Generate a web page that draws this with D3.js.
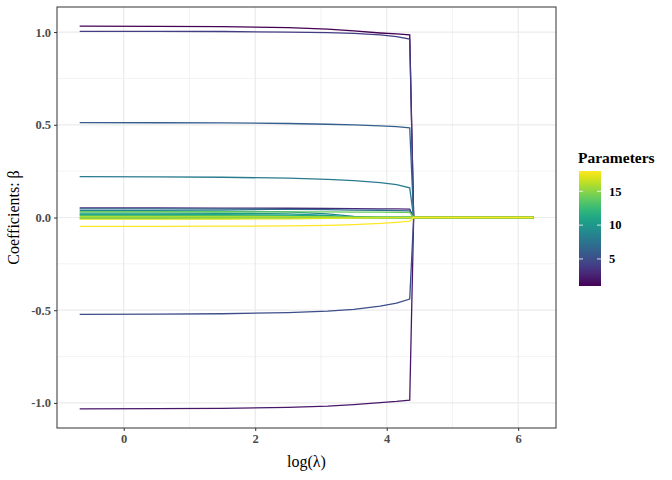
<!DOCTYPE html>
<html>
<head>
<meta charset="utf-8">
<script src="https://cdn.jsdelivr.net/npm/d3@7"></script>
<style>
  body { margin: 0; background: #fff; }
  text { font-family: "Liberation Serif", "DejaVu Serif", serif; }
</style>
</head>
<body>
<div id="chart"></div>
<script>
// log(lambda) grid along the lasso path
const logLambda = [-0.67, 0.5, 1.5, 2.5, 3.1, 3.5, 3.9, 4.15, 4.35, 4.41, 5.3, 6.23];

// coefficient paths, one per parameter (1..18)
const beta01 = [1.032, 1.031, 1.029, 1.024, 1.016, 1.006, 0.995, 0.99, 0.985, 0, 0, 0];
const beta02 = [-1.032, -1.031, -1.029, -1.024, -1.017, -1.009, -0.998, -0.992, -0.985, 0, 0, 0];
const beta03 = [0.052, 0.052, 0.051, 0.05, 0.049, 0.048, 0.047, 0.046, 0.045, 0, 0, 0];
const beta04 = [1.004, 1.004, 1.003, 1.0, 0.997, 0.993, 0.985, 0.975, 0.962, 0, 0, 0];
const beta05 = [-0.522, -0.521, -0.519, -0.513, -0.505, -0.495, -0.478, -0.462, -0.44, 0, 0, 0];
const beta06 = [0.512, 0.511, 0.51, 0.507, 0.503, 0.499, 0.494, 0.49, 0.484, 0, 0, 0];
const beta07 = [0.046, 0.046, 0.045, 0.044, 0.042, 0.04, 0.039, 0.037, 0.036, 0, 0, 0];
const beta08 = [0.22, 0.219, 0.217, 0.212, 0.206, 0.199, 0.188, 0.177, 0.16, 0, 0, 0];
const beta09 = [0.037, 0.037, 0.035, 0.03, 0.02, 0.006, 0, 0, 0, 0, 0, 0];
const beta10 = [0.024, 0.024, 0.023, 0.02, 0.012, 0, 0, 0, 0, 0, 0, 0];
const beta11 = [0.017, 0.017, 0.016, 0.013, 0.008, 0.002, 0, 0, 0, 0, 0, 0];
const beta12 = [0.012, 0.012, 0.011, 0.009, 0.005, 0, 0, 0, 0, 0, 0, 0];
const beta13 = [-0.004, -0.004, -0.004, -0.003, -0.002, 0, 0, 0, 0, 0, 0, 0];
const beta14 = [0.031, 0.031, 0.031, 0.03, 0.03, 0.029, 0.029, 0.028, 0.028, 0, 0, 0];
const beta15 = [0.001, 0.001, 0.001, 0.001, 0.001, 0, 0, 0, 0, 0, 0, 0];
const beta16 = [0.006, 0.006, 0.006, 0.005, 0.003, 0.001, 0, 0, 0, 0, 0, 0];
const beta17 = [-0.009, -0.009, -0.008, -0.007, -0.005, -0.003, -0.002, -0.001, -0.001, 0, 0, 0];
const beta18 = [-0.048, -0.048, -0.047, -0.045, -0.042, -0.038, -0.032, -0.026, -0.02, 0, 0, 0];

const betaPaths = [beta01, beta02, beta03, beta04, beta05, beta06, beta07, beta08, beta09,
                   beta10, beta11, beta12, beta13, beta14, beta15, beta16, beta17, beta18];

const xTicks = [0, 2, 4, 6];
const xMinor = [1, 3, 5];
const yTicks = [-1.0, -0.5, 0.0, 0.5, 1.0];
const yMinor = [-0.75, -0.25, 0.25, 0.75];
const legendTicks = [5, 10, 15];

const W = 672, H = 480;
const panel = { left: 57, right: 556, top: 7, bottom: 428 };

const svg = d3.select("#chart").append("svg")
    .attr("width", W).attr("height", H);

// ggplot-style 5% expansion
const xExt = d3.extent(logLambda);
const xPad = (xExt[1] - xExt[0]) * 0.05;
const yMin = d3.min(betaPaths, (d) => d3.min(d));
const yMax = d3.max(betaPaths, (d) => d3.max(d));
const yPad = (yMax - yMin) * 0.05;

const x = d3.scaleLinear().domain([xExt[0] - xPad, xExt[1] + xPad]).range([panel.left, panel.right]);
const y = d3.scaleLinear().domain([yMin - yPad, yMax + yPad]).range([panel.bottom, panel.top]);
const color = (p) => d3.interpolateViridis((p - 1) / 17);

// grid
const grid = svg.append("g");
grid.selectAll(".minor-x").data(xMinor).join("line")
    .attr("x1", (d) => x(d)).attr("x2", (d) => x(d))
    .attr("y1", panel.top).attr("y2", panel.bottom)
    .attr("stroke", "#ebebeb").attr("stroke-width", 0.6);
grid.selectAll(".minor-y").data(yMinor).join("line")
    .attr("y1", (d) => y(d)).attr("y2", (d) => y(d))
    .attr("x1", panel.left).attr("x2", panel.right)
    .attr("stroke", "#ebebeb").attr("stroke-width", 0.6);
grid.append("g").selectAll("line").data(xTicks).join("line")
    .attr("x1", (d) => x(d)).attr("x2", (d) => x(d))
    .attr("y1", panel.top).attr("y2", panel.bottom)
    .attr("stroke", "#ebebeb").attr("stroke-width", 1.2);
grid.append("g").selectAll("line").data(yTicks).join("line")
    .attr("y1", (d) => y(d)).attr("y2", (d) => y(d))
    .attr("x1", panel.left).attr("x2", panel.right)
    .attr("stroke", "#ebebeb").attr("stroke-width", 1.2);

// coefficient lines
const line = d3.line()
    .x((d) => x(d[0]))
    .y((d) => y(d[1]));

svg.append("g").selectAll("path")
    .data(betaPaths.map((vals, i) => ({ p: i + 1, pts: logLambda.map((l, j) => [l, vals[j]]) })))
    .join("path")
    .attr("fill", "none")
    .attr("stroke", (d) => color(d.p))
    .attr("stroke-width", 1.3)
    .attr("d", (d) => line(d.pts));

// panel border
svg.append("rect")
    .attr("x", panel.left).attr("y", panel.top)
    .attr("width", panel.right - panel.left).attr("height", panel.bottom - panel.top)
    .attr("fill", "none").attr("stroke", "#333333").attr("stroke-width", 1);

// axes
const xAxis = svg.append("g")
    .attr("transform", `translate(0,${panel.bottom})`)
    .call(d3.axisBottom(x).tickValues(xTicks).tickSize(3).tickPadding(3).tickFormat(d3.format("d")));
const yAxis = svg.append("g")
    .attr("transform", `translate(${panel.left},0)`)
    .call(d3.axisLeft(y).tickValues(yTicks).tickSize(3).tickPadding(3).tickFormat(d3.format(".1f")));
[xAxis, yAxis].forEach((g) => {
    g.select(".domain").remove();
    g.selectAll(".tick line").attr("stroke", "#333333");
    g.selectAll(".tick text")
        .attr("fill", "#4d4d4d")
        .style("font-family", "'Liberation Serif', serif")
        .style("font-size", "12.5px")
        .style("font-weight", "bold");
});
yAxis.selectAll(".tick text").text((d) => d3.format(".1f")(d).replace("−", "-"));

svg.append("text")
    .attr("x", (panel.left + panel.right) / 2).attr("y", 467)
    .attr("text-anchor", "middle")
    .style("font-size", "16px")
    .text("log(λ)");

svg.append("text")
    .attr("transform", `translate(19,${(panel.top + panel.bottom) / 2}) rotate(-90)`)
    .attr("text-anchor", "middle")
    .style("font-size", "16px")
    .text("Coefficients: β");

// colourbar legend
const legend = { x: 579, w: 22 };
const ly = d3.scaleLinear().domain([1, 18]).range([286, 171]);
const defs = svg.append("defs");
const grad = defs.append("linearGradient").attr("id", "vir")
    .attr("x1", "0").attr("y1", "1").attr("x2", "0").attr("y2", "0");
d3.range(0, 1.0001, 0.05).forEach((t) => {
    grad.append("stop").attr("offset", t).attr("stop-color", d3.interpolateViridis(t));
});
svg.append("text")
    .attr("x", legend.x - 1).attr("y", 163)
    .style("font-size", "15.5px").style("font-weight", "bold")
    .text("Parameters");
svg.append("rect")
    .attr("x", legend.x).attr("y", ly(18))
    .attr("width", legend.w).attr("height", ly(1) - ly(18))
    .attr("fill", "url(#vir)");
const lt = svg.append("g").selectAll("g").data(legendTicks).join("g");
lt.append("line")
    .attr("x1", legend.x).attr("x2", legend.x + 4)
    .attr("y1", (d) => ly(d)).attr("y2", (d) => ly(d))
    .attr("stroke", "#fff").attr("stroke-width", 0.8);
lt.append("line")
    .attr("x1", legend.x + legend.w - 4).attr("x2", legend.x + legend.w)
    .attr("y1", (d) => ly(d)).attr("y2", (d) => ly(d))
    .attr("stroke", "#fff").attr("stroke-width", 0.8);
lt.append("text")
    .attr("x", legend.x + legend.w + 8)
    .attr("y", (d) => ly(d)).attr("dy", "0.35em")
    .style("font-size", "12.5px").style("font-weight", "bold")
    .text((d) => d);
</script>
</body>
</html>
